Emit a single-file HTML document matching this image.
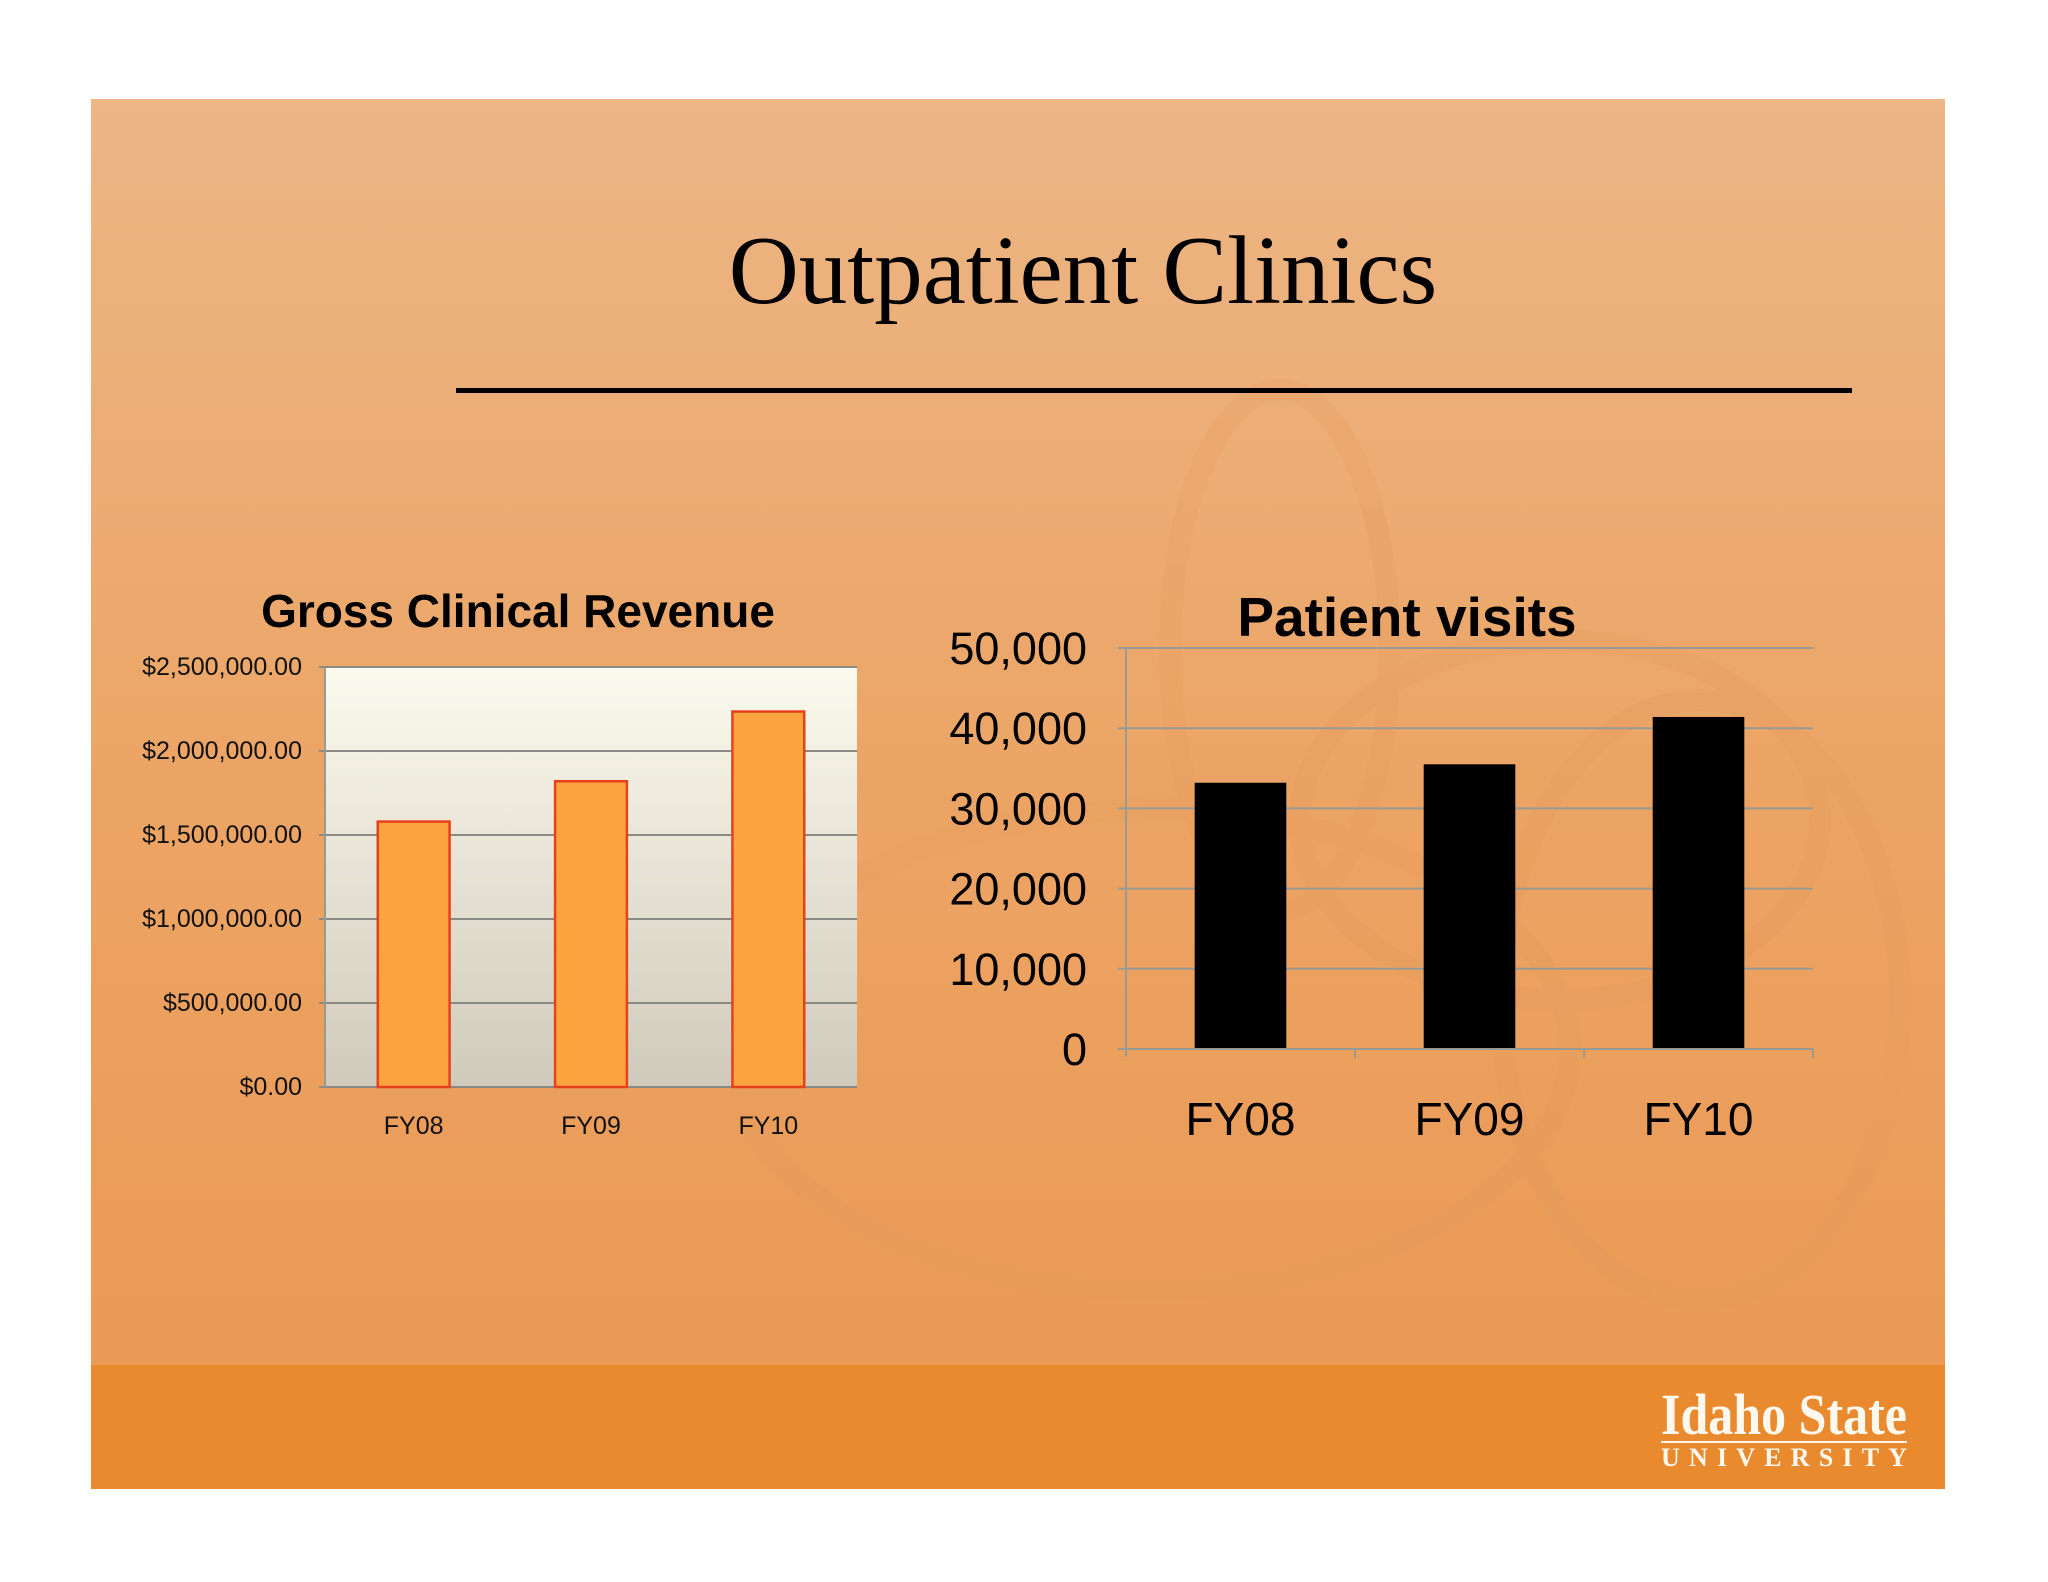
<!DOCTYPE html>
<html><head><meta charset="utf-8"><style>
html,body{margin:0;padding:0;background:#fff;}
svg{display:block;}
</style></head><body>
<svg width="2048" height="1582" viewBox="0 0 2048 1582" xmlns="http://www.w3.org/2000/svg">
<defs>
<linearGradient id="bg" x1="0" y1="0" x2="0" y2="1">
<stop offset="0" stop-color="#ecb685"/><stop offset="0.5" stop-color="#eca465"/><stop offset="1" stop-color="#ea9850"/>
</linearGradient>
<linearGradient id="plotbg" x1="0" y1="0" x2="0" y2="1">
<stop offset="0" stop-color="#fcfaee"/><stop offset="1" stop-color="#cfcabb"/>
</linearGradient>
</defs>
<rect x="91" y="99" width="1854" height="1390" fill="url(#bg)"/>
<g fill="none" stroke="#e39a5c" stroke-width="22" opacity="0.25">
<ellipse cx="1280" cy="650" rx="110" ry="260"/>
<ellipse cx="1560" cy="820" rx="260" ry="180"/>
<ellipse cx="1150" cy="1050" rx="420" ry="240"/>
<ellipse cx="1700" cy="1000" rx="200" ry="300"/>
</g>
<rect x="91" y="1365" width="1854" height="124" fill="#ea8a2e"/>
<text x="1083" y="303" text-anchor="middle" font-family="Liberation Serif, serif" font-size="97" fill="#000">Outpatient Clinics</text>
<rect x="456" y="388" width="1396" height="5" fill="#000"/>
<g>
<text x="1784" y="1434" text-anchor="middle" font-family="Liberation Serif, serif" font-weight="bold" font-size="58" fill="#fff8ee" textLength="246" lengthAdjust="spacingAndGlyphs">Idaho State</text>
<rect x="1661" y="1441" width="246" height="2" fill="#fff8ee"/>
<text x="1784" y="1466" text-anchor="middle" font-family="Liberation Serif, serif" font-weight="bold" font-size="26" fill="#fff8ee" textLength="246" lengthAdjust="spacing">UNIVERSITY</text>
</g>
<g id="left"></g>
<g id="right"></g>
</svg>
<script>
const categories = ['FY08','FY09','FY10'];
const revenueValues = [1580000, 1820000, 2235000];
const revenueTicks = [0, 500000, 1000000, 1500000, 2000000, 2500000];
const revenueTickLabels = ['$0.00','$500,000.00','$1,000,000.00','$1,500,000.00','$2,000,000.00','$2,500,000.00'];
const visitValues = [33200, 35500, 41400];
const visitTicks = [0, 10000, 20000, 30000, 40000, 50000];
const visitTickLabels = ['0','10,000','20,000','30,000','40,000','50,000'];

const NS='http://www.w3.org/2000/svg';
function mk(parent, tag, attrs, text){
  const e=document.createElementNS(NS,tag);
  for(const k in attrs) e.setAttribute(k,attrs[k]);
  if(text!==undefined) e.textContent=text;
  parent.appendChild(e); return e;
}

// Left chart
(function(){
  const g=document.getElementById('left');
  const L=325,R=857,T=667,B=1087,max=2500000;
  const y=v=>B-(v/max)*(B-T);
  const bw=(R-L)/categories.length;
  const x=i=>L+bw*i+bw/2;
  const bg=mk(g,'rect',{x:L,y:T,width:R-L,height:B-T,fill:'url(#plotbg)'});
  
  
  revenueTicks.forEach((t,i)=>{
    const ln=mk(g,'line',{x1:L-6,x2:R,y1:y(t),y2:y(t),stroke:'#8a8a84','stroke-width':2});
    
    
    const tx=mk(g,'text',{x:302,y:y(t)+8,'text-anchor':'end','font-family':'Liberation Sans, sans-serif','font-size':25,fill:'#111'},revenueTickLabels[i]);
    
    
  });
  const ax=mk(g,'line',{x1:L,x2:L,y1:T,y2:B,stroke:'#9a9a94','stroke-width':2});
  
  
  revenueValues.forEach((v,i)=>{
    const w=bw*0.405;
    const r=mk(g,'rect',{x:x(i)-w/2,y:y(v),width:w,height:B-y(v),fill:'#fca43f',stroke:'#e8401a','stroke-width':2.5});
    
    
    const tx=mk(g,'text',{x:x(i),y:1134,'text-anchor':'middle','font-family':'Liberation Sans, sans-serif','font-size':25,fill:'#111'},categories[i]);
    
    
  });
  const t=mk(g,'text',{x:518,y:627,'text-anchor':'middle','font-family':'Liberation Sans, sans-serif','font-weight':'bold','font-size':46,fill:'#000'},'Gross Clinical Revenue');
  
  
})();

// Right chart
(function(){
  const g=document.getElementById('right');
  const L=1126,R=1813,T=648,B=1049,max=50000;
  const y=v=>B-(v/max)*(B-T);
  const bw=(R-L)/categories.length;
  const x=i=>L+bw*i+bw/2;
  visitTicks.forEach((t,i)=>{
    const ln=mk(g,'line',{x1:L-8,x2:R,y1:y(t),y2:y(t),stroke:'#9a9a94','stroke-width':2});
    
    
    const tx=mk(g,'text',{x:1087,y:y(t)+16,'text-anchor':'end','font-family':'Liberation Sans, sans-serif','font-size':45,fill:'#000'},visitTickLabels[i]);
    
    
  });
  const ax=mk(g,'line',{x1:L,x2:L,y1:T,y2:B+8,stroke:'#9a9a94','stroke-width':2});
  
  
  for(let i=1;i<=categories.length;i++){
    const tk=mk(g,'line',{x1:L+bw*i,x2:L+bw*i,y1:B,y2:B+9,stroke:'#9a9a94','stroke-width':2});
    
    
  }
  visitValues.forEach((v,i)=>{
    const w=bw*0.4;
    const r=mk(g,'rect',{x:x(i)-w/2,y:y(v),width:w,height:B-y(v)-1,fill:'#000'});
    
    
    const tx=mk(g,'text',{x:x(i),y:1135,'text-anchor':'middle','font-family':'Liberation Sans, sans-serif','font-size':46,fill:'#000'},categories[i]);
    
    
  });
  const t=mk(g,'text',{x:1407,y:636,'text-anchor':'middle','font-family':'Liberation Sans, sans-serif','font-weight':'bold','font-size':55,fill:'#000'},'Patient visits');
  
  
})();
</script>
</body></html>
